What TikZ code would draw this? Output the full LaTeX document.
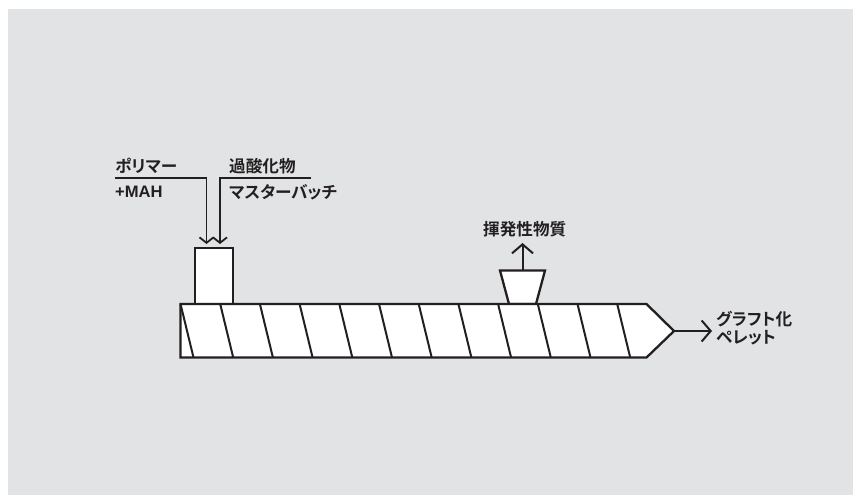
\documentclass[tikz,border=0pt]{standalone}
\usepackage{fontspec}
\setmainfont{Noto Sans CJK JP Bold}[RawFeature=+palt]
\newfontfamily\latinbold{Liberation Sans}[BoldFont=Liberation Sans Bold]
\usetikzlibrary{arrows.meta}
\definecolor{panelgray}{HTML}{E1E3E5}
\definecolor{inkblack}{HTML}{231F20}
\tikzset{
  outline/.style={draw=inkblack,line width=2.3pt,fill=white,line join=miter},
  lead/.style={draw=inkblack,line width=1.8pt},
  feedtip/.style={lead,-{Straight Barb[length=5.5pt,width=14pt,line width=1.8pt]}},
  bigtip/.style={lead,line width=2pt,-{Straight Barb[length=9pt,width=21pt,line width=2pt]}},
  label/.style={inner sep=0pt,anchor=west,text=inkblack,font=\fontsize{16.6}{18}\selectfont},
}
\begin{document}
\begin{tikzpicture}[x=1pt,y=-1pt]
\useasboundingbox (0,0) rectangle (853,495);
\fill [panelgray] (8,9) rectangle (853,495);
% barrel
\coordinate (barrelnw) at (180.5,304);
\coordinate (barrelne) at (646.5,304);
\coordinate (barreltip) at (674,331);
\coordinate (barrelse) at (646.5,357.5);
\coordinate (barrelsw) at (180.5,357.5);
% hopper and vent
\coordinate (ventnw) at (500,270.5);
\coordinate (ventne) at (545,270.5);
\coordinate (ventse) at (536,304);
\coordinate (ventsw) at (509,304);
\coordinate (venttop) at (522.5,270.5);
\coordinate (ventend) at (522.5,243);
\coordinate (polystart) at (115,178);
\coordinate (polybend) at (206.5,178);
\coordinate (polyend) at (206.5,244);
\coordinate (peroxstart) at (311,178);
\coordinate (peroxbend) at (220,178);
\coordinate (peroxend) at (220,244);
\coordinate (outend) at (712,331);
\draw [outline] (195,248) rectangle (233,304);
\draw [outline] (ventnw) -- (ventne) -- (ventse) -- (ventsw) -- cycle;
\draw [outline] (barrelnw) -- (barrelne) -- (barreltip) -- (barrelse) -- (barrelsw) -- cycle;
% flights
\foreach \n in {0,...,11}
  \draw [draw=inkblack,line width=2pt] (180.5+39.7*\n,304) -- (193.5+39.7*\n,357.5);
% feeds
\draw [feedtip] (polystart) -- (polybend) -- (polyend);
\draw [feedtip] (peroxstart) -- (peroxbend) -- (peroxend);
\draw [bigtip] (venttop) -- (ventend);
\draw [bigtip] (barreltip) -- (outend);
% labels
\node [label] (polymer) at (115,166) {ポリマー};
\node [label] (mah) at (115,192) {\latinbold\bfseries +MAH};
\node [label] (peroxide) at (229,166) {過酸化物};
\node [label] (masterbatch) at (229,192) {マスターバッチ};
\node [label] (volatile) at (483,229) {揮発性物質};
\node [label] (grafted) at (716,319) {グラフト化};
\node [label] (pellet) at (716,338) {ペレット};
\end{tikzpicture}
\end{document}
